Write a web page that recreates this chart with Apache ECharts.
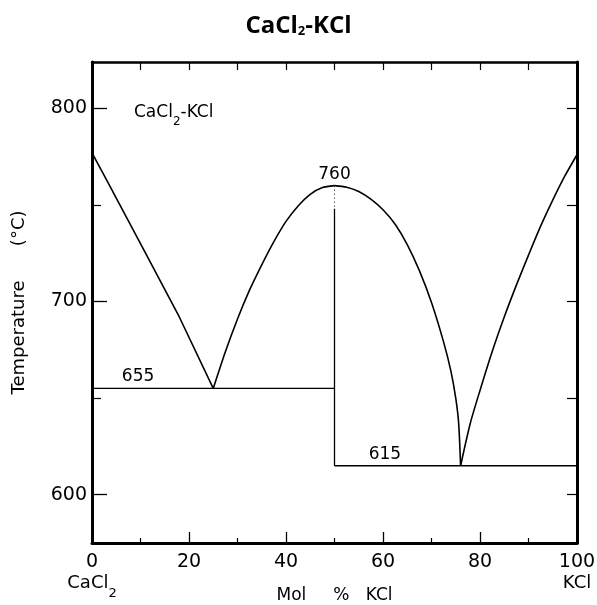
<!DOCTYPE html>
<html>
<head>
<meta charset="utf-8">
<title>CaCl2-KCl</title>
<script src="https://cdn.jsdelivr.net/npm/echarts@6/dist/echarts.min.js"></script>
<style>
  html, body { margin: 0; padding: 0; background: #fff; }
  #chart { width: 597px; height: 605px; }
</style>
</head>
<body>
<div id="chart"></div>
<script>
// Phase diagram of the CaCl2-KCl system (temperature in °C vs mol % KCl)

// Liquidus branches as [mol % KCl, temperature °C]
const caCl2Liquidus = [[0, 777], [3, 763], [10, 730], [18, 692], [25, 655]];
const compoundLiquidusLeft = [[25, 655], [27.5, 674], [30, 691], [32.5, 706], [35, 719],
  [37.5, 731], [40, 741.5], [42.5, 749.5], [45, 755.5], [47.5, 759], [50, 760]];
const compoundLiquidusRight = [[50, 760], [52.5, 759.2], [55, 757], [57.5, 753], [60, 747.5],
  [62.5, 740], [65, 729.5], [67.5, 716], [70, 699.5], [72.5, 679], [74, 664], [75, 650],
  [75.6, 637], [76, 615]];
const kclLiquidus = [[76, 615], [78, 637], [80, 654], [82.5, 674], [85, 692], [87.5, 708.5],
  [90, 724], [92.5, 739], [95, 752.5], [97.5, 765], [100, 776]];

// Invariant points
const eutecticTemps = [655, 615];
const compoundX = 50;
const compoundMelt = 760;

// Axis ticks
const xTicks = [0, 20, 40, 60, 80, 100];
const tempLabels = [600, 700, 800];
const tempMinorTicks = [650, 750];
const tempRange = [575, 824];

// Annotation labels: [x, temperature]
const labelPoints = [[9.5, eutecticTemps[0]], [60.4, eutecticTemps[1]], [compoundX, compoundMelt]];

const FONT = 'DejaVu Sans';
const black = '#000';

const chart = echarts.init(document.getElementById('chart'), null, { renderer: 'canvas' });

const curveStyle = { color: black, width: 1.6 };
const flatStyle = { color: black, width: 1.3 };

function curve(data, smooth) {
  return {
    type: 'line', data: data, smooth: smooth, showSymbol: false, symbol: 'none',
    lineStyle: curveStyle, xAxisIndex: 0, yAxisIndex: 0, silent: true, z: 5
  };
}

function segment(data, style) {
  return {
    type: 'line', data: data, showSymbol: false, symbol: 'none',
    lineStyle: style, xAxisIndex: 0, yAxisIndex: 0, silent: true, z: 4
  };
}

chart.setOption({
  animation: false,
  backgroundColor: '#fff',
  title: [
    {
      text: 'CaCl{s|2}-KCl',
      left: 'center', top: 9,
      textStyle: {
        fontFamily: 'Open Sans', fontWeight: 'bold', fontSize: 24, color: black,
        rich: { s: { fontFamily: 'Open Sans', fontWeight: 'bold', fontSize: 13, verticalAlign: 'bottom', lineHeight: 22, color: black } }
      }
    },
    {
      text: 'CaCl{s|2}-KCl',
      left: 129, top: 99,
      textStyle: {
        fontFamily: FONT, fontWeight: 'normal', fontSize: 17, color: black,
        rich: { s: { fontFamily: FONT, fontSize: 12, verticalAlign: 'bottom', lineHeight: 12, padding: [0, 0, -7, 0], color: black } }
      }
    }
  ],
  grid: { left: 92, right: 20, top: 62, bottom: 62, containLabel: false, outerBoundsMode: 'none' },
  xAxis: [
    {
      type: 'value', position: 'bottom', min: 0, max: 100, interval: 20,
      axisLine: { show: true, onZero: false, lineStyle: { color: black, width: 3 } },
      axisTick: { show: true, inside: true, length: 11, lineStyle: { color: black, width: 1.3 } },
      minorTick: { show: true, splitNumber: 2, length: 5, lineStyle: { color: black, width: 1.2 } },
      splitLine: { show: false },
      axisLabel: {
        color: black, fontFamily: FONT, fontSize: 19, margin: 10,
        customValues: xTicks,
        formatter: function (v) {
          if (v === 0) return '0\n{c|CaCl}{s|2}';
          if (v === 100) return '100\n{c|KCl}';
          return String(v);
        },
        rich: {
          c: { fontFamily: FONT, fontSize: 18, color: black, lineHeight: 22 },
          s: { fontFamily: FONT, fontSize: 13, color: black, lineHeight: 22, verticalAlign: 'bottom', padding: [0, 0, -6, 0] }
        }
      },
      name: 'Mol     %   KCl', nameLocation: 'middle', nameGap: 44, nameMoveOverlap: false,
      nameTextStyle: { fontFamily: FONT, fontSize: 17, color: black }
    },
    {
      type: 'value', position: 'top', min: 0, max: 100, interval: 10,
      axisLine: { show: true, onZero: false, lineStyle: { color: black, width: 2.5 } },
      axisTick: { show: true, inside: true, length: 8, lineStyle: { color: black, width: 1.2 } },
      axisLabel: { show: false }, splitLine: { show: false }
    }
  ],
  yAxis: [
    {
      type: 'value', position: 'left', min: tempRange[0], max: tempRange[1],
      axisLine: { show: true, onZero: false, lineStyle: { color: black, width: 3 } },
      axisTick: { show: true, inside: true, length: 15, customValues: tempLabels, lineStyle: { color: black, width: 1.3 } },
      axisLabel: { color: black, fontFamily: FONT, fontSize: 19, margin: 5, customValues: tempLabels },
      splitLine: { show: false },
      name: 'Temperature      (°C)', nameLocation: 'middle', nameGap: 64, nameRotate: 90, nameMoveOverlap: false,
      nameTextStyle: { fontFamily: FONT, fontSize: 18, color: black }
    },
    {
      type: 'value', position: 'left', min: tempRange[0], max: tempRange[1],
      axisLine: { show: false },
      axisTick: { show: true, inside: true, length: 9, customValues: tempMinorTicks, lineStyle: { color: black, width: 1.2 } },
      axisLabel: { show: false }, splitLine: { show: false }
    },
    {
      type: 'value', position: 'right', min: tempRange[0], max: tempRange[1],
      axisLine: { show: true, onZero: false, lineStyle: { color: black, width: 3 } },
      axisTick: { show: true, inside: true, length: 10, customValues: tempLabels.concat(tempMinorTicks), lineStyle: { color: black, width: 1.2 } },
      axisLabel: { show: false }, splitLine: { show: false }
    }
  ],
  series: [
    curve(caCl2Liquidus, false),
    curve(compoundLiquidusLeft, 0.25),
    curve(compoundLiquidusRight, 0.25),
    curve(kclLiquidus, 0.25),
    // eutectic isotherms
    segment([[0, eutecticTemps[0]], [compoundX, eutecticTemps[0]]], flatStyle),
    segment([[compoundX, eutecticTemps[1]], [100, eutecticTemps[1]]], flatStyle),
    // composition of the congruently melting compound
    segment([[compoundX, compoundMelt], [compoundX, 748]], { color: black, width: 1, type: [1, 3] }),
    segment([[compoundX, 748], [compoundX, eutecticTemps[1]]], flatStyle),
    // temperature annotations
    {
      type: 'scatter', data: labelPoints, symbolSize: 0, silent: true, z: 6,
      label: {
        show: true, position: 'top', distance: 3, color: black, opacity: 1,
        textBorderWidth: 0, fontFamily: FONT, fontSize: 17,
        formatter: function (p) { return String(p.value[1]); }
      }
    }
  ]
});
</script>
</body>
</html>
